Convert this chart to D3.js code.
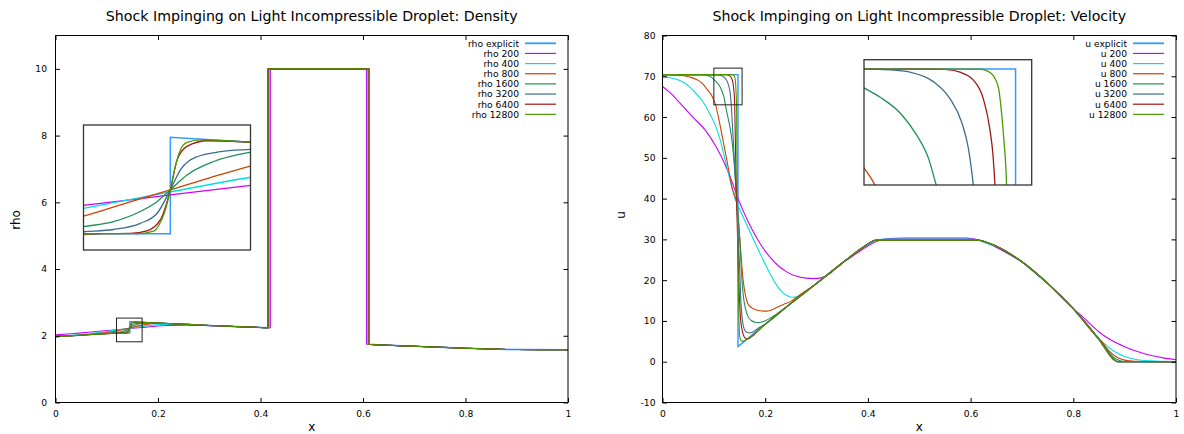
<!DOCTYPE html>
<html><head><meta charset="utf-8">
<script src="https://cdn.jsdelivr.net/npm/d3@7"></script>
<style>body{margin:0;background:#fff}svg{display:block}</style>
</head><body><svg id="c" width="1184" height="434"></svg>
<script>
// ---------------- data ----------------
const seriesKeys = ["explicit", "200", "400", "800", "1600", "3200", "6400", "12800"];
const seriesColors = ["#3399ff", "#cc00ff", "#00dede", "#cc4400", "#1e9155", "#3a6c8f", "#a01515", "#4d9a00"];
const xTicks = [0, 0.2, 0.4, 0.6, 0.8, 1];
const xTickLabels = ["0", "0.2", "0.4", "0.6", "0.8", "1"];
const rhoTicks = [0, 2, 4, 6, 8, 10];
const rhoTickLabels = ["0", "2", "4", "6", "8", "10"];
const uTicks = [-10, 0, 10, 20, 30, 40, 50, 60, 70, 80];
const uTickLabels = ["-10", "0", "10", "20", "30", "40", "50", "60", "70", "80"];

// density: common profile pieces
const rhoPreBase = [[0,1.975],[0.03,2.0],[0.06,2.03],[0.09,2.058],[0.11,2.072],[0.125,2.078],[0.145,2.078]];
const rhoPostBase = [[0.145,2.421],[0.169,2.404],[0.2,2.38],[0.25,2.345],[0.3,2.31],[0.35,2.28],[0.39,2.255]];
const rhoDropletLevels = [2.24, 10.0, 1.745];
const rhoInterfaceLeft = [0.4147, 0.4192, 0.4172, 0.4155, 0.4147, 0.4147, 0.4147, 0.4147];
const rhoInterfaceRight = [0.6122, 0.6068, 0.6086, 0.611, 0.6125, 0.6125, 0.6125, 0.6125];
const rhoTailBase = [[0.65,1.715],[0.7,1.685],[0.75,1.655],[0.8,1.628],[0.85,1.603],[0.88,1.59],[0.9,1.587],[1,1.583]];
// density near the left shock, per series
const rhoShockExplicit = [[0.145,2.078],[0.145,2.421]];
const rhoShock200 = [[0,2.025],[0.03,2.06],[0.06,2.1],[0.09,2.142],[0.119,2.179],[0.145,2.216],[0.169,2.25],[0.19,2.28],[0.22,2.306],[0.26,2.316],[0.3,2.302],[0.35,2.274]];
const rhoShock400 = [[0,1.99],[0.04,2.025],[0.07,2.07],[0.1,2.125],[0.119,2.168],[0.145,2.227],[0.169,2.279],[0.19,2.318],[0.215,2.342],[0.25,2.34],[0.3,2.31]];
const rhoShock800 = [[0.06,2.03],[0.08,2.06],[0.095,2.088],[0.107,2.112],[0.119,2.141],[0.132,2.188],[0.145,2.234],[0.157,2.278],[0.169,2.319],[0.18,2.35],[0.19,2.368],[0.205,2.374],[0.22,2.366]];
const rhoShock1600 = [[0.09,2.058],[0.1,2.07],[0.11,2.085],[0.119,2.103],[0.128,2.121],[0.136,2.157],[0.141,2.192],[0.145,2.234],[0.15,2.287],[0.158,2.335],[0.169,2.368],[0.18,2.384],[0.192,2.386],[0.2,2.38]];
const rhoShock3200 = [[0.1,2.068],[0.11,2.075],[0.119,2.085],[0.128,2.093],[0.136,2.115],[0.141,2.15],[0.145,2.234],[0.148,2.305],[0.153,2.352],[0.16,2.37],[0.169,2.378],[0.18,2.386],[0.192,2.386],[0.2,2.38]];
const rhoShock6400 = [[0.125,2.078],[0.133,2.079],[0.138,2.088],[0.142,2.127],[0.145,2.234],[0.147,2.34],[0.15,2.389],[0.156,2.409],[0.169,2.404]];
const rhoShock12800 = [[0.135,2.078],[0.14,2.087],[0.142,2.118],[0.1435,2.162],[0.145,2.234],[0.1465,2.318],[0.148,2.376],[0.15,2.403],[0.154,2.412],[0.169,2.404]];

// velocity: common profile
const uBase = [[0,70.4],[0.147,70.4],[0.147,3.7],[0.16,5.05],[0.2,9.2],[0.25,14.3],[0.3,19.2],[0.35,24.2],[0.39,28.0],[0.415,29.8],[0.615,29.8],[0.65,28.3],[0.7,24.5],[0.75,19.2],[0.8,13.0],[0.85,5.5],[0.878,0.6],[0.886,0],[1,0]];
// velocity near the left shock, per series
const uFront200 = [[0,67.5],[0.0136,66.1],[0.035,63.3],[0.059,60],[0.085,56.5],[0.105,52.6],[0.122,48.3],[0.137,43.6],[0.145,40.7],[0.155,37.6],[0.165,34.8],[0.175,32.3],[0.19,29.0],[0.209,25.7],[0.225,23.6],[0.241,22.1],[0.26,21.0],[0.28,20.5],[0.295,20.4],[0.306,20.5],[0.316,20.9],[0.326,21.6],[0.336,22.7],[0.345,23.6]];
const uFront400 = [[0,69.9],[0.033,69],[0.05,67.7],[0.066,65.7],[0.08,63.5],[0.092,60.8],[0.102,58.2],[0.111,55],[0.12,50.5],[0.127,46.9],[0.134,43.2],[0.14,40.4],[0.1445,39],[0.152,36.9],[0.163,33.9],[0.176,30.3],[0.189,26.8],[0.202,23.4],[0.215,20.3],[0.225,18.3],[0.234,17.0],[0.244,16.1],[0.254,15.8],[0.262,15.9],[0.272,16.5],[0.28,17.3],[0.29,18.2]];
const uFront800 = [[0,70.45],[0.03,70.3],[0.053,69.8],[0.068,69.1],[0.079,68.1],[0.088,66.6],[0.095,65.5],[0.1,64.1],[0.1034,63],[0.108,60.5],[0.118,54.2],[0.127,48.3],[0.136,42.5],[0.1445,38.8],[0.15,31],[0.157,20],[0.162,16],[0.166,14.3],[0.174,13.2],[0.183,12.7],[0.202,12.4],[0.212,12.7],[0.222,13.3],[0.235,14.0],[0.25,14.8],[0.27,16.6]];
const uFront1600 = [[0.08,70.4],[0.09,70.1],[0.095,69.8],[0.1,69.2],[0.105,68.6],[0.1112,67.6],[0.1163,66.2],[0.12,64.7],[0.1224,63],[0.127,60.2],[0.131,57.8],[0.134,55.5],[0.139,49.5],[0.1445,40.5],[0.15,31],[0.155,19.5],[0.158,15.5],[0.162,12.8],[0.167,11.0],[0.173,10.1],[0.18,9.7],[0.186,9.6],[0.192,9.7],[0.2,10.05],[0.21,10.7]];
const uFront3200 = [[0.1,70.4],[0.108,70.35],[0.1143,70.2],[0.1215,69.6],[0.1267,68.5],[0.1303,67],[0.1324,65.3],[0.1339,63],[0.136,58.5],[0.138,54],[0.1415,45.5],[0.1445,39],[0.147,32],[0.15,23.5],[0.153,14],[0.156,9.8],[0.158,8.5],[0.161,7.6],[0.164,7.2],[0.17,7.05],[0.175,7.2],[0.183,7.9],[0.19,8.5]];
const uFront6400 = [[0.12,70.4],[0.125,70.38],[0.1298,70.2],[0.1339,69.7],[0.137,68.5],[0.139,66.6],[0.14,64.9],[0.1406,63],[0.1425,50],[0.1445,39],[0.146,31],[0.148,22],[0.15,15],[0.152,10.5],[0.155,7.8],[0.158,6.4],[0.162,5.7],[0.166,5.6],[0.17,5.8],[0.175,6.3]];
const uFront12800 = [[0.13,70.4],[0.136,70.4],[0.138,70.3],[0.14,70.0],[0.1417,69.2],[0.1427,67.5],[0.1434,65.8],[0.1442,63],[0.1447,55],[0.1452,45],[0.1457,39],[0.1465,30],[0.1475,20],[0.1485,12],[0.1495,8],[0.151,5.8],[0.153,5.2],[0.156,5.0],[0.16,5.2]];
// velocity on the droplet plateau and the right tail, per series
const uPlateau200 = [[0.36,25.0],[0.39,27.6],[0.415,29.4],[0.44,30.2],[0.47,30.3],[0.59,30.3],[0.615,29.9],[0.64,28.7],[0.66,27.4]];
const uPlateau400 = [[0.4,28.7],[0.415,29.7],[0.43,30.1],[0.6,30.1],[0.62,29.6],[0.635,28.9]];
const uTail200 = [[0.82,10.8],[0.85,7.3],[0.875,5.2],[0.9,3.7],[0.925,2.5],[0.95,1.6],[0.975,0.95],[1,0.5]];
const uTail400 = [[0.84,7.2],[0.86,4.5],[0.88,2.5],[0.9,1.3],[0.92,0.6],[0.95,0.2],[1,0.02]];
const uTail800 = [[0.855,4.9],[0.87,2.6],[0.885,1.1],[0.9,0.4],[0.92,0.1],[0.95,0]];
const uTail1600 = [[0.865,3.0],[0.878,1.1],[0.89,0.3],[0.9,0.05]];

// zoom windows
const rhoBoxX = [0.119, 0.169], rhoBoxY = [1.82, 2.53];
const rhoInsetX = [0.119, 0.169], rhoInsetY = [2.02, 2.465];
const uBoxX = [0.1, 0.155], uBoxY = [63, 72];
const uInsetX = [0.1, 0.152], uInsetY = [63, 71];

// ---------------- build series ----------------
function compose(base, patches) {
  const out = []; let cursor = -Infinity;
  patches.filter(p => p.length).sort((a, b) => a[0][0] - b[0][0]).forEach(p => {
    base.filter(d => d[0] > cursor && d[0] < p[0][0]).forEach(d => out.push(d));
    p.forEach(d => out.push(d));
    cursor = p[p.length - 1][0];
  });
  base.filter(d => d[0] > cursor).forEach(d => out.push(d));
  return out;
}
const rhoShocks = [rhoShockExplicit, rhoShock200, rhoShock400, rhoShock800, rhoShock1600, rhoShock3200, rhoShock6400, rhoShock12800];
const rhoSeries = rhoShocks.map((sh, i) => {
  const left = compose([...rhoPreBase, ...rhoPostBase], [sh]);
  const drop = [[rhoInterfaceLeft[i], rhoDropletLevels[0]], [rhoInterfaceLeft[i], rhoDropletLevels[1]],
                [rhoInterfaceRight[i], rhoDropletLevels[1]], [rhoInterfaceRight[i], rhoDropletLevels[2]]];
  return [...left, ...drop, ...rhoTailBase];
});
const uPatches = [[], [uFront200, uPlateau200, uTail200], [uFront400, uPlateau400, uTail400], [uFront800, uTail800],
                  [uFront1600, uTail1600], [uFront3200], [uFront6400], [uFront12800]];
const uSeries = uPatches.map(p => compose(uBase, p));

// ---------------- drawing ----------------
const svg = d3.select("#c");
const defs = svg.append("defs");
const FONT = "DejaVu Sans, sans-serif";

function drawPanel(p) {
  const g = svg.append("g");
  const x = d3.scaleLinear().domain([0, 1]).range([p.left, p.right]);
  const y = d3.scaleLinear().domain(p.yDomain).range([p.bottom, p.top]);
  const mkLine = (xs, ys, i) => d3.line().x(d => xs(d[0])).y(d => ys(d[1]))
      .curve(i === 0 ? d3.curveLinear : d3.curveMonotoneX);

  defs.append("clipPath").attr("id", p.id + "c").append("rect")
    .attr("x", p.left).attr("y", p.top).attr("width", p.right - p.left).attr("height", p.bottom - p.top);
  const lg = g.append("g").attr("clip-path", `url(#${p.id}c)`);
  p.series.forEach((s, i) => lg.append("path").attr("d", mkLine(x, y, i)(s))
    .attr("fill", "none").attr("stroke", seriesColors[i]).attr("stroke-width", i === 0 ? 1.4 : 1.1));

  const T = 4.5;
  const style = sel => {
    sel.select(".domain").remove();
    sel.selectAll(".tick line").attr("stroke", "#000");
    sel.selectAll("text").attr("font-family", FONT).attr("font-size", 9.2).attr("fill", "#000");
  };
  g.append("g").attr("transform", `translate(0,${p.bottom})`)
    .call(d3.axisBottom(x).tickValues(xTicks).tickFormat((d, i) => xTickLabels[i]).tickSizeInner(-T).tickSizeOuter(0).tickPadding(7.6)).call(style);
  g.append("g").attr("transform", `translate(0,${p.top})`)
    .call(d3.axisTop(x).tickValues(xTicks).tickFormat("").tickSizeInner(-T).tickSizeOuter(0)).call(style);
  g.append("g").attr("transform", `translate(${p.left},0)`)
    .call(d3.axisLeft(y).tickValues(p.yTicks).tickFormat((d, i) => p.yLabels[i]).tickSizeInner(-T).tickSizeOuter(0).tickPadding(p.yPad)).call(style);
  g.append("g").attr("transform", `translate(${p.right},0)`)
    .call(d3.axisRight(y).tickValues(p.yTicks).tickFormat("").tickSizeInner(-T).tickSizeOuter(0)).call(style);
  g.append("rect").attr("x", p.left).attr("y", p.top).attr("width", p.right - p.left).attr("height", p.bottom - p.top)
    .attr("fill", "none").attr("stroke", "#000").attr("stroke-width", 1);

  // zoom box on the main plot
  g.append("rect").attr("x", x(p.boxX[0])).attr("y", y(p.boxY[1]))
    .attr("width", x(p.boxX[1]) - x(p.boxX[0])).attr("height", y(p.boxY[0]) - y(p.boxY[1]))
    .attr("fill", "none").attr("stroke", "#222").attr("stroke-width", 1);

  // inset
  const ix = d3.scaleLinear().domain(p.insetX).range([p.inset[0], p.inset[2]]);
  const iy = d3.scaleLinear().domain(p.insetY).range([p.inset[3], p.inset[1]]);
  const ig = g.append("g");
  ig.append("rect").attr("x", p.inset[0]).attr("y", p.inset[1]).attr("width", p.inset[2] - p.inset[0])
    .attr("height", p.inset[3] - p.inset[1]).attr("fill", "#fff");
  defs.append("clipPath").attr("id", p.id + "i").append("rect").attr("x", p.inset[0]).attr("y", p.inset[1])
    .attr("width", p.inset[2] - p.inset[0]).attr("height", p.inset[3] - p.inset[1]);
  const il = ig.append("g").attr("clip-path", `url(#${p.id}i)`);
  p.series.forEach((s, i) => il.append("path").attr("d", mkLine(ix, iy, i)(s))
    .attr("fill", "none").attr("stroke", seriesColors[i]).attr("stroke-width", i === 0 ? 1.5 : 1.3));
  ig.append("rect").attr("x", p.inset[0]).attr("y", p.inset[1]).attr("width", p.inset[2] - p.inset[0])
    .attr("height", p.inset[3] - p.inset[1]).attr("fill", "none").attr("stroke", "#333").attr("stroke-width", 1.3);

  // legend
  const leg = g.append("g");
  p.legend.forEach((lab, i) => {
    const yy = 43.3 + 10.15 * i;
    leg.append("text").attr("x", p.right - 49).attr("y", yy + 3.3).attr("text-anchor", "end")
      .attr("font-family", FONT).attr("font-size", 9.2).text(lab);
    leg.append("line").attr("x1", p.right - 43).attr("x2", p.right - 12).attr("y1", yy).attr("y2", yy)
      .attr("stroke", seriesColors[i]).attr("stroke-width", i === 0 ? 1.8 : 1.2);
  });

  // title and axis labels
  g.append("text").attr("x", (p.left + p.right) / 2).attr("y", 21).attr("text-anchor", "middle")
    .attr("font-family", FONT).attr("font-size", 14.2).text(p.title);
  g.append("text").attr("x", (p.left + p.right) / 2).attr("y", 430.5).attr("text-anchor", "middle")
    .attr("font-family", FONT).attr("font-size", 12).text("x");
  g.append("text").attr("transform", `translate(${p.yLabelPos[0]},${p.yLabelPos[1]}) rotate(-90)`)
    .attr("text-anchor", "middle").attr("font-family", FONT).attr("font-size", 12).text(p.yLabel);
}

drawPanel({
  id: "rho", left: 55.5, right: 568, top: 35.5, bottom: 402.5, yDomain: [0, 11],
  yTicks: rhoTicks, yLabels: rhoTickLabels, yPad: 8.5, series: rhoSeries,
  boxX: rhoBoxX, boxY: rhoBoxY, insetX: rhoInsetX, insetY: rhoInsetY, inset: [83.5, 125, 250.5, 250],
  legend: seriesKeys.map(k => "rho " + k),
  title: "Shock Impinging on Light Incompressible Droplet: Density", yLabel: "rho", yLabelPos: [20, 220]
});
drawPanel({
  id: "u", left: 662.5, right: 1176, top: 35.5, bottom: 402.5, yDomain: [-10, 80],
  yTicks: uTicks, yLabels: uTickLabels, yPad: 7, series: uSeries,
  boxX: uBoxX, boxY: uBoxY, insetX: uInsetX, insetY: uInsetY, inset: [864, 59.7, 1031.7, 185],
  legend: seriesKeys.map(k => "u " + k),
  title: "Shock Impinging on Light Incompressible Droplet: Velocity", yLabel: "u", yLabelPos: [625, 215]
});
</script>
</body></html>
